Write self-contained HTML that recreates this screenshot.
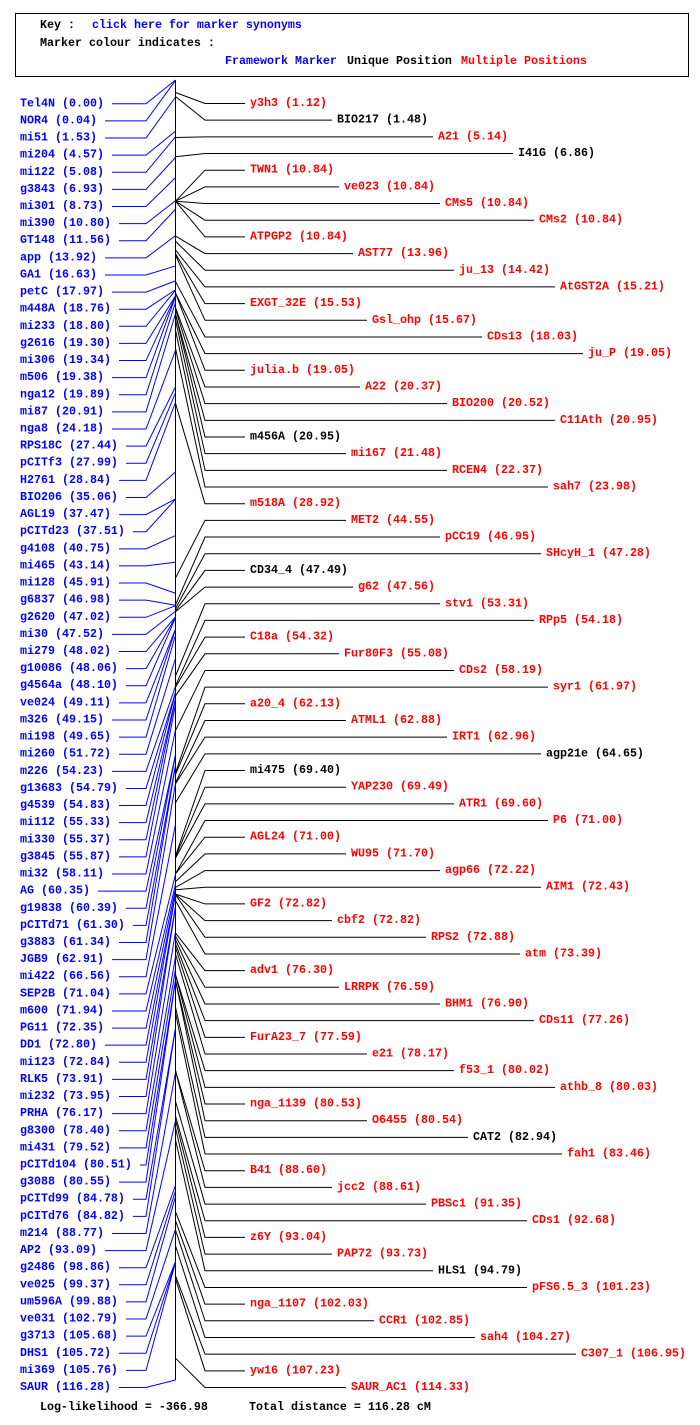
<!DOCTYPE html>
<html><head><meta charset="utf-8"><style>
html,body{margin:0;padding:0;background:#fff;}
svg text{font-family:"Liberation Mono",monospace;font-size:11.67px;font-weight:bold;dominant-baseline:central;}
</style></head><body>
<svg id="map" width="700" height="1420" xmlns="http://www.w3.org/2000/svg">
<rect x="15.5" y="13.5" width="673" height="63" fill="none" stroke="#000"/>
<text x="40" y="25" fill="#000">Key :</text>
<text x="92" y="25" fill="#0000ff">click here for marker synonyms</text>
<text x="40" y="43" fill="#000">Marker colour indicates :</text>
<text x="225" y="61" fill="#0000ff">Framework Marker</text>
<text x="347" y="61" fill="#000">Unique Position</text>
<text x="461" y="61" fill="#ff0000">Multiple Positions</text>
<line x1="175.5" y1="80" x2="175.5" y2="1380" stroke="#000"/>
<g id="marks"></g>
<text x="40" y="1407" fill="#000">Log-likelihood = -366.98</text>
<text x="249" y="1407" fill="#000">Total distance = 116.28 cM</text>
</svg>
<script>
const leftNames=["Tel4N","NOR4","mi51","mi204","mi122","g3843","mi301","mi390","GT148","app","GA1","petC","m448A","mi233","g2616","mi306","m506","nga12","mi87","nga8","RPS18C","pCITf3","H2761","BIO206","AGL19","pCITd23","g4108","mi465","mi128","g6837","g2620","mi30","mi279","g10086","g4564a","ve024","m326","mi198","mi260","m226","g13683","g4539","mi112","mi330","g3845","mi32","AG","g19838","pCITd71","g3883","JGB9","mi422","SEP2B","m600","PG11","DD1","mi123","RLK5","mi232","PRHA","g8300","mi431","pCITd104","g3088","pCITd99","pCITd76","m214","AP2","g2486","ve025","um596A","ve031","g3713","DHS1","mi369","SAUR"];
const leftPos=[0.00,0.04,1.53,4.57,5.08,6.93,8.73,10.80,11.56,13.92,16.63,17.97,18.76,18.80,19.30,19.34,19.38,19.89,20.91,24.18,27.44,27.99,28.84,35.06,37.47,37.51,40.75,43.14,45.91,46.98,47.02,47.52,48.02,48.06,48.10,49.11,49.15,49.65,51.72,54.23,54.79,54.83,55.33,55.37,55.87,58.11,60.35,60.39,61.30,61.34,62.91,66.56,71.04,71.94,72.35,72.80,72.84,73.91,73.95,76.17,78.40,79.52,80.51,80.55,84.78,84.82,88.77,93.09,98.86,99.37,99.88,102.79,105.68,105.72,105.76,116.28];
const rightNames=["y3h3","BIO217","A21","I41G","TWN1","ve023","CMs5","CMs2","ATPGP2","AST77","ju_13","AtGST2A","EXGT_32E","Gsl_ohp","CDs13","ju_P","julia.b","A22","BIO200","C11Ath","m456A","mi167","RCEN4","sah7","m518A","MET2","pCC19","SHcyH_1","CD34_4","g62","stv1","RPp5","C18a","Fur80F3","CDs2","syr1","a20_4","ATML1","IRT1","agp21e","mi475","YAP230","ATR1","P6","AGL24","WU95","agp66","AIM1","GF2","cbf2","RPS2","atm","adv1","LRRPK","BHM1","CDs11","FurA23_7","e21","f53_1","athb_8","nga_1139","O6455","CAT2","fah1","B41","jcc2","PBSc1","CDs1","z6Y","PAP72","HLS1","pFS6.5_3","nga_1107","CCR1","sah4","C307_1","yw16","SAUR_AC1"];
const rightPos=[1.12,1.48,5.14,6.86,10.84,10.84,10.84,10.84,10.84,13.96,14.42,15.21,15.53,15.67,18.03,19.05,19.05,20.37,20.52,20.95,20.95,21.48,22.37,23.98,28.92,44.55,46.95,47.28,47.49,47.56,53.31,54.18,54.32,55.08,58.19,61.97,62.13,62.88,62.96,64.65,69.40,69.49,69.60,71.00,71.00,71.70,72.22,72.43,72.82,72.82,72.88,73.39,76.30,76.59,76.90,77.26,77.59,78.17,80.02,80.03,80.53,80.54,82.94,83.46,88.60,88.61,91.35,92.68,93.04,93.73,94.79,101.23,102.03,102.85,104.27,106.95,107.23,114.33];
const uniqueMarkers=["BIO217","I41G","m456A","CD34_4","agp21e","mi475","CAT2","HLS1"];
const totalCM=116.28;
const NS="http://www.w3.org/2000/svg";
const g=document.getElementById('marks');
const AX=175.5,Y0=80,Y1=1380;
function yScale(cm){return Y0+(cm/totalCM)*(Y1-Y0);}
function mk(tag,attrs){const e=document.createElementNS(NS,tag);for(const k in attrs)e.setAttribute(k,attrs[k]);g.appendChild(e);return e;}
const CW=7;
const lStep=(1387-103.3)/(leftNames.length-1);
leftNames.forEach((n,i)=>{
  const ly=103.3+i*lStep, s=n+" ("+leftPos[i].toFixed(2)+")";
  const t=mk('text',{x:20,y:ly,fill:'#0000ff'});t.textContent=s;
  
  
  const p=mk('polyline',{points:(20+s.length*CW+8)+","+(ly+0.5)+" 146,"+(ly+0.5)+" "+AX+","+yScale(leftPos[i]),fill:'none',stroke:'#0000ff','stroke-width':1});
  
  
});
const rStep=(1387-103)/(rightNames.length-1);
let x=250;
rightNames.forEach((n,i)=>{
  if(i%4===0)x=250;
  const ry=103+i*rStep, s=n+" ("+rightPos[i].toFixed(2)+")";
  const col=uniqueMarkers.includes(n)?'#000':'#ff0000';
  const t=mk('text',{x:x,y:ry,fill:col});t.textContent=s;
  
  
  const p=mk('polyline',{points:AX+","+yScale(rightPos[i])+" 205,"+(ry+0.5)+" "+(x-5)+","+(ry+0.5),fill:'none',stroke:'#000','stroke-width':1});
  
  
  x+=s.length*CW+10;
});
</script>
</body></html>
